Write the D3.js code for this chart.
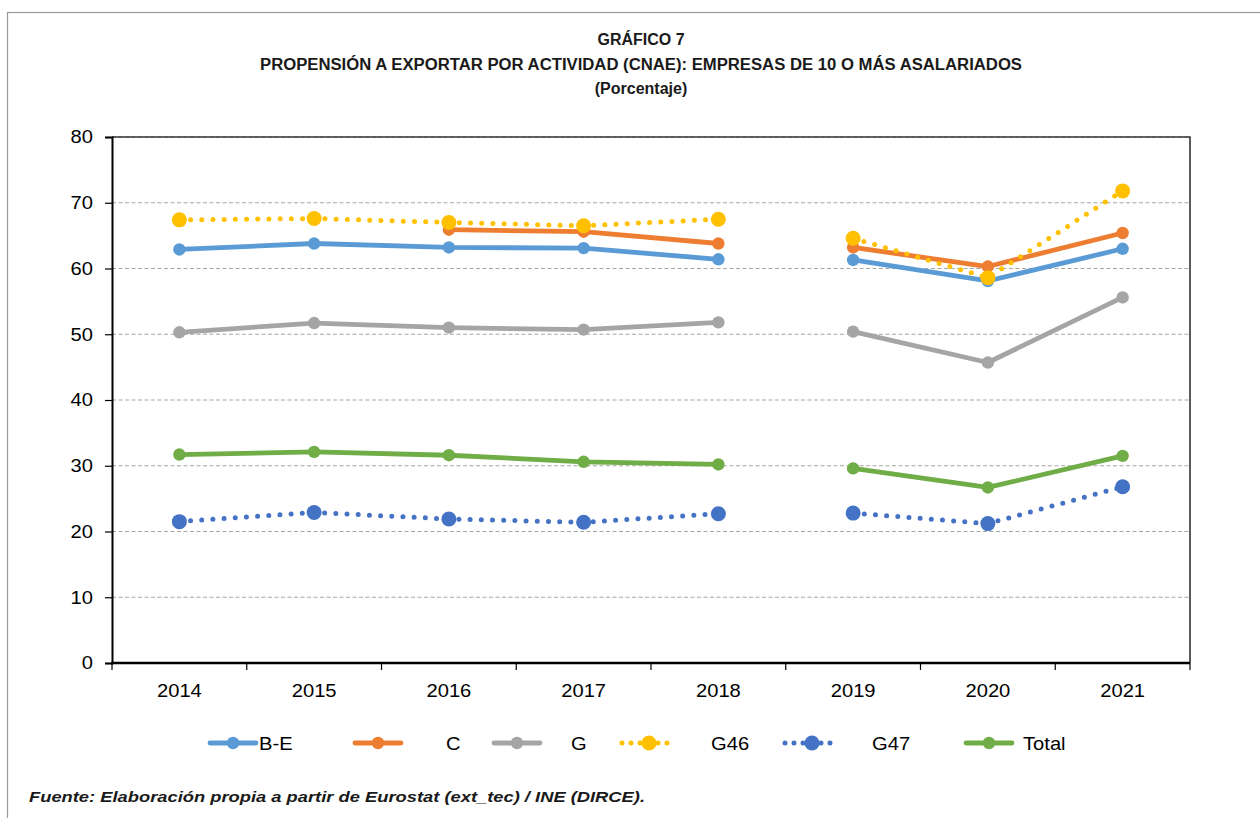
<!DOCTYPE html>
<html>
<head>
<meta charset="utf-8">
<script src="https://cdn.jsdelivr.net/npm/d3@7"></script>
<style>
  body { margin: 0; background: #fff; }
  svg { display: block; font-family: "Liberation Sans", Arial, sans-serif; }
</style>
</head>
<body>
<svg id="chart" width="1260" height="818"></svg>
<script>
// datos (porcentaje)
var years = ["2014", "2015", "2016", "2017", "2018", "2019", "2020", "2021"];
var tramo = [1, 1, 1, 1, 1, 2, 2, 2]; // serie rota entre 2018 y 2019
var serieBE = [62.9, 63.8, 63.2, 63.1, 61.4, 61.3, 58.1, 63.0];
var serieC = [null, null, 65.9, 65.6, 63.8, 63.2, 60.3, 65.4];
var serieG = [50.3, 51.7, 51.0, 50.7, 51.8, 50.4, 45.7, 55.6];
var serieG46 = [67.4, 67.6, 67.0, 66.5, 67.5, 64.6, 58.6, 71.8];
var serieG47 = [21.5, 22.9, 21.9, 21.4, 22.7, 22.8, 21.2, 26.8];
var serieTotal = [31.7, 32.1, 31.6, 30.6, 30.2, 29.6, 26.7, 31.5];
var yTicks = [0, 10, 20, 30, 40, 50, 60, 70, 80];

var series = [
	{name: "B-E", values: serieBE, color: "#5B9BD5", dotted: false},
	{name: "C", values: serieC, color: "#ED7D31", dotted: false},
	{name: "G", values: serieG, color: "#A5A5A5", dotted: false},
	{name: "G46", values: serieG46, color: "#FFC000", dotted: true},
	{name: "G47", values: serieG47, color: "#4472C4", dotted: true},
	{name: "Total", values: serieTotal, color: "#70AD47", dotted: false}
];

var drawChart = function(){

	var svg = d3.select("#chart");
	var sx = 1.12; // el original esta algo estirado en horizontal

	// marco exterior
	svg.append("rect")
		.attr("x", 7.5).attr("y", 12.5)
		.attr("width", 1300).attr("height", 900)
		.attr("fill", "none").attr("stroke", "#9a9a9a").attr("stroke-width", 1.2);

	// titulos
	var titles = [
		{t: "GRÁFICO 7", y: 45},
		{t: "PROPENSIÓN A EXPORTAR POR ACTIVIDAD (CNAE): EMPRESAS DE 10 O MÁS ASALARIADOS", y: 70, w: 762},
		{t: "(Porcentaje)", y: 94}
	];
	titles.forEach(function(d){
		var txt = svg.append("text")
			.attr("x", 641).attr("y", d.y)
			.attr("text-anchor", "middle")
			.style("font-weight", "bold")
			.style("font-size", "16px")
			.style("fill", "#1a1a1a")
			.text(d.t);
		if (d.w) txt.attr("textLength", d.w).attr("lengthAdjust", "spacingAndGlyphs");
	});

	var pLeft = 112, pRight = 1190, pTop = 137, pBottom = 663;

	var x = d3.scaleBand().domain(years).range([pLeft, pRight]);
	var y = d3.scaleLinear().domain([0, 80]).range([pBottom, pTop]);
	var cx = function(yr){ return x(yr) + x.bandwidth() / 2; };

	// rejilla
	svg.append("g")
		.selectAll("line")
		.data(yTicks.filter(function(v){ return v > 0; }))
		.enter().append("line")
		.attr("x1", pLeft).attr("x2", pRight)
		.attr("y1", function(d){ return y(d); })
		.attr("y2", function(d){ return y(d); })
		.attr("stroke", "#a6a6a6")
		.attr("stroke-width", 1)
		.attr("stroke-dasharray", "4 2.5");

	// borde superior y derecho del area
	svg.append("path")
		.attr("d", "M" + pLeft + "," + y(80) + "H" + pRight + "V" + pBottom)
		.attr("fill", "none").attr("stroke", "#333").attr("stroke-width", 1.6);

	// eje Y
	var yAxis = svg.append("g")
		.attr("transform", "translate(" + pLeft + ",0)")
		.call(d3.axisLeft(y).tickValues(yTicks).tickSize(7).tickPadding(0));
	yAxis.select(".domain").attr("stroke", "#000").attr("stroke-width", 2);
	yAxis.selectAll(".tick line").attr("stroke", "#000").attr("stroke-width", 1.2);
	yAxis.selectAll(".tick text")
		.attr("x", -19 / sx)
		.attr("transform", "scale(" + sx + ",1)")
		.style("font-size", "18px").style("fill", "#000");

	// eje X
	var xAxis = svg.append("g")
		.attr("transform", "translate(0," + pBottom + ")")
		.call(d3.axisBottom(x).tickSize(0).tickPadding(21));
	xAxis.select(".domain").remove();
	xAxis.selectAll(".tick text")
		.attr("transform", "scale(" + sx + ",1)")
		.style("font-size", "18px").style("fill", "#000");

	var bounds = years.map(function(yr){ return x(yr); }).concat([pRight]);
	svg.append("g").selectAll("line")
		.data(bounds).enter().append("line")
		.attr("x1", function(d){ return d; }).attr("x2", function(d){ return d; })
		.attr("y1", pBottom).attr("y2", pBottom + 7)
		.attr("stroke", "#000").attr("stroke-width", 1.2);
	svg.append("line")
		.attr("x1", pLeft - 1).attr("x2", pRight)
		.attr("y1", pBottom).attr("y2", pBottom)
		.attr("stroke", "#000").attr("stroke-width", 2.4);

	// series
	var line = d3.line()
		.x(function(d){ return cx(d.year); })
		.y(function(d){ return y(d.value); });

	series.forEach(function(s){
		var pts = years.map(function(yr, i){ return {year: yr, value: s.values[i], tramo: tramo[i]}; })
			.filter(function(d){ return d.value != null; });
		var groups = d3.groups(pts, function(d){ return d.tramo; });
		var g = svg.append("g").attr("class", "serie");

		g.selectAll("path")
			.data(groups).enter().append("path")
			.attr("d", function(d){ return line(d[1]); })
			.attr("fill", "none")
			.attr("stroke", s.color)
			.attr("stroke-width", s.dotted ? 5 : 4.8)
			.attr("stroke-linecap", "round")
			.attr("stroke-linejoin", "round")
			.attr("stroke-dasharray", s.dotted ? "0 11.2" : null);

		g.selectAll("circle")
			.data(pts).enter().append("circle")
			.attr("cx", function(d){ return cx(d.year); })
			.attr("cy", function(d){ return y(d.value); })
			.attr("r", s.dotted ? 7.5 : 6.2)
			.attr("fill", s.color);
	});

	// leyenda
	var legLineX = [210, 355, 494, 622, 785, 966];
	var legTextX = [259, 446, 571, 711, 872, 1023];
	var legLen = 46;
	var legY = 743;
	var leg = svg.append("g").selectAll("g")
		.data(series).enter().append("g");

	leg.append("line")
		.attr("x1", function(d, i){ return legLineX[i]; })
		.attr("x2", function(d, i){ return legLineX[i] + legLen; })
		.attr("y1", legY).attr("y2", legY)
		.attr("stroke", function(d){ return d.color; })
		.attr("stroke-width", function(d){ return d.dotted ? 5 : 4.8; })
		.attr("stroke-linecap", "round")
		.attr("stroke-dasharray", function(d){ return d.dotted ? "0 9" : null; });

	leg.append("circle")
		.attr("cx", function(d, i){ return legLineX[i] + (d.dotted ? 27 : legLen / 2); })
		.attr("cy", legY)
		.attr("r", function(d){ return d.dotted ? 7.5 : 6.2; })
		.attr("fill", function(d){ return d.color; });

	leg.append("text")
		.attr("transform", function(d, i){ return "translate(" + legTextX[i] + "," + (legY + 6.5) + ") scale(" + sx + ",1)"; })
		.style("font-size", "18px")
		.text(function(d){ return d.name; });

	// fuente
	svg.append("text")
		.attr("x", 29).attr("y", 802)
		.style("font-size", "15.5px")
		.style("font-weight", "bold")
		.style("font-style", "italic")
		.style("fill", "#1a1a1a")
		.attr("textLength", 616).attr("lengthAdjust", "spacingAndGlyphs")
		.text("Fuente: Elaboración propia a partir de Eurostat (ext_tec) / INE (DIRCE).");
};

drawChart();
</script>
</body>
</html>
